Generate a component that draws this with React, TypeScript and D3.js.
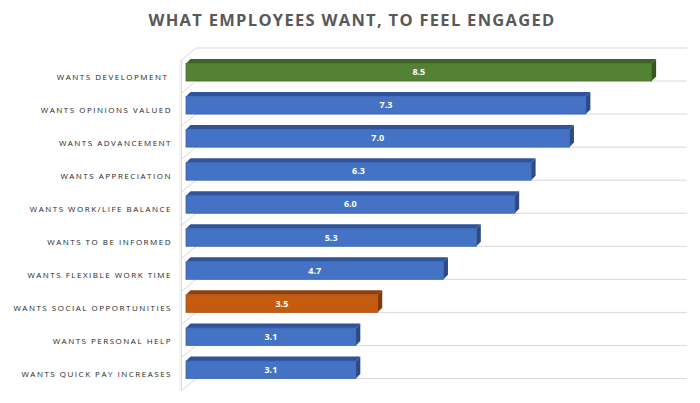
import React from "react";
import * as d3 from "d3";

const categories = [
  "WANTS DEVELOPMENT ",
  "WANTS OPINIONS VALUED",
  "WANTS ADVANCEMENT",
  "WANTS APPRECIATION",
  "WANTS WORK/LIFE BALANCE",
  "WANTS TO BE INFORMED",
  "WANTS FLEXIBLE WORK TIME",
  "WANTS SOCIAL OPPORTUNITIES",
  "WANTS PERSONAL HELP",
  "WANTS QUICK PAY INCREASES",
];
const values = [8.5, 7.3, 7.0, 6.3, 6.0, 5.3, 4.7, 3.5, 3.1, 3.1];
const colorKeys = ["green", "blue", "blue", "blue", "blue", "blue", "blue", "orange", "blue", "blue"];
const title = "WHAT EMPLOYEES WANT, TO FEEL ENGAGED";

const palette: Record<string, { front: string; top: string; side: string; stroke: string }> = {
  green: { front: "#548235", top: "#3e6326", side: "#35561f", stroke: "#456d2b" },
  blue: { front: "#4472C4", top: "#30529a", side: "#2c4a86", stroke: "#3a64b0" },
  orange: { front: "#C55A11", top: "#8f400b", side: "#7e390a", stroke: "#b0500f" },
};

export default function App() {
  const W = 700, H = 403;
  const x = d3.scaleLinear().domain([0, 9]).range([186, 679]);
  const y = d3.scaleBand<number>().domain(d3.range(categories.length)).range([48, 378.5]).padding(0);
  const bw = y.bandwidth();
  const wallLeft = 181.5, wallBack = 196, wallRight = 687, wallDy = 12;
  const depth = 4.5;
  const gridYs = d3.range(categories.length + 1).map((k) => 48 + k * bw);

  return (
    <svg width={W} height={H} style={{ display: "block", position: "absolute", left: 0, top: 0 }}>
      <rect width={W} height={H} fill="#fff" />
      <text x={352} y={26} textAnchor="middle" fontFamily="'Open Sans', sans-serif" fontWeight={700}
        fontSize={16.5} fill="#595959" letterSpacing={1.3}>{title}</text>
      {/* walls */}
      <line x1={wallLeft} y1={48 + wallDy} x2={wallLeft} y2={378.5 + wallDy} stroke="#d9d9d9" strokeWidth={1} />
      <line x1={wallLeft - 1.5} y1={48 + wallDy} x2={wallLeft - 1.5} y2={378.5 + wallDy} stroke="#ececec" strokeWidth={1} />
      {gridYs.map((gy, k) => (
        <g key={k}>
          <line x1={wallLeft} y1={gy + wallDy} x2={wallBack} y2={gy} stroke="#d9d9d9" strokeWidth={1} />
          <line x1={wallBack} y1={gy} x2={wallRight} y2={gy} stroke="#d9d9d9" strokeWidth={1} />
        </g>
      ))}
      {/* bars */}
      {values.map((v, i) => {
        const c = palette[colorKeys[i]];
        const top = y(i)! + 15.5;
        const bottom = y(i)! + 33;
        const x0 = x(0);
        const x1 = x(v);
        return (
          <g key={i}>
            <polygon points={`${x0},${top} ${x0 + depth},${top - depth} ${x1 + depth},${top - depth} ${x1},${top}`} fill={c.top} />
            <polygon points={`${x1},${top} ${x1 + depth},${top - depth} ${x1 + depth},${bottom - depth} ${x1},${bottom}`} fill={c.side} />
            <rect x={x0} y={top} width={x1 - x0} height={bottom - top} fill={c.front} stroke={c.stroke} strokeWidth={0.8} />
            <text x={(x0 + x1) / 2} y={(top + bottom) / 2 + 3} textAnchor="middle" fontFamily="'Open Sans', sans-serif"
              fontWeight={700} fontSize={9} fill="#fff">{v.toFixed(1)}</text>
            <text x={172} y={(top + bottom) / 2 + 7.5} textAnchor="end" fontFamily="'Open Sans', sans-serif"
              fontSize={8} fill="#262626" letterSpacing={1.5} style={{ whiteSpace: "pre" }}>{categories[i]}</text>
          </g>
        );
      })}
    </svg>
  );
}
